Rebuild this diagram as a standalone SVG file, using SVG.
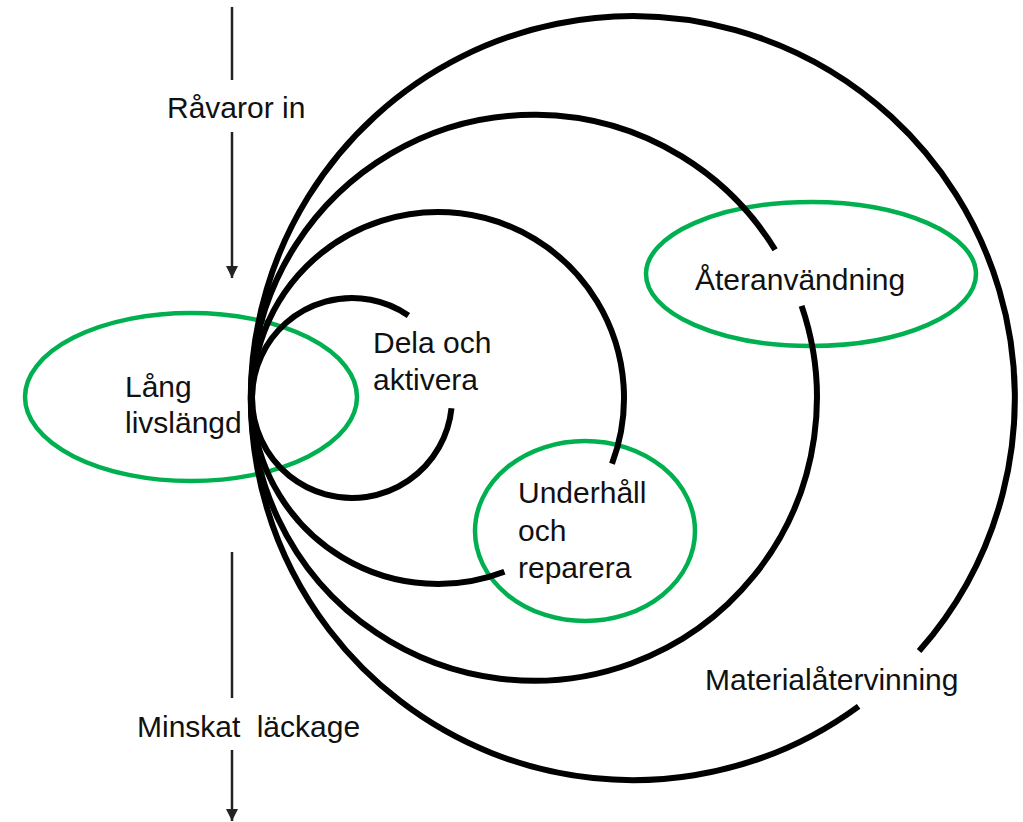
<svg xmlns="http://www.w3.org/2000/svg" width="1023" height="822" viewBox="0 0 1023 822">
  <style>
    .loop { fill: none; stroke: #000; stroke-width: 6; }
    .oval { fill: none; stroke: #00B050; stroke-width: 4.5; }
    .lbl { font-family: "Liberation Sans", Arial, sans-serif; font-size: 30px; fill: #111; }
    .flow { stroke: #222; stroke-width: 2.5; fill: none; }
  </style>
  <defs>
    <marker id="head" markerWidth="14" markerHeight="12" refX="12" refY="6" orient="auto" markerUnits="userSpaceOnUse">
      <path d="M0,0 L12,6 L0,12 Z" fill="#222"/>
    </marker>
  </defs>
  <rect width="1023" height="822" fill="#fff"/>

  <g id="lang-livslangd">
    <ellipse class="oval" cx="191" cy="397" rx="166" ry="84"/>
    <text class="lbl" x="125" y="397">Lång</text>
    <text class="lbl" x="125" y="433">livslängd</text>
  </g>
  <g id="ateranvandning">
    <ellipse class="oval" cx="811" cy="274" rx="165" ry="72"/>
    <text class="lbl" x="695" y="290">Återanvändning</text>
  </g>
  <g id="underhall">
    <ellipse class="oval" cx="585" cy="531" rx="110" ry="90"/>
    <text class="lbl" x="518" y="503">Underhåll</text>
    <text class="lbl" x="518" y="541">och</text>
    <text class="lbl" x="518" y="578">reparera</text>
  </g>

  <g id="loop-materialatervinning">
    <path class="loop" d="M 858.6 706.3 A 382 382 0 1 1 919.1 651.1"/>
    <text class="lbl" x="705" y="690">Materialåtervinning</text>
  </g>
  <g id="loop-ateranvandning">
    <path class="loop" d="M 801.6 305.9 A 283 283 0 1 1 775.1 249.7"/>
  </g>
  <g id="loop-underhall">
    <path class="loop" d="M 504.4 571.7 A 186 186 0 1 1 612 463.7"/>
  </g>
  <g id="loop-dela">
    <path class="loop" d="M 451.5 408.3 A 100 100 0 1 1 408.4 315.4"/>
    <text class="lbl" x="373" y="353">Dela och</text>
    <text class="lbl" x="373" y="390">aktivera</text>
  </g>

  <g id="connectors">
    <line class="flow" x1="232" y1="7" x2="232" y2="80"/>
    <line class="flow" x1="232" y1="132" x2="232" y2="278" marker-end="url(#head)"/>
    <line class="flow" x1="232" y1="552" x2="232" y2="698"/>
    <line class="flow" x1="232" y1="750" x2="232" y2="821" marker-end="url(#head)"/>
  </g>
  <g id="flow-labels">
    <text class="lbl" x="167" y="118">Råvaror in</text>
    <text class="lbl" x="137" y="737" word-spacing="8">Minskat läckage</text>
  </g>
</svg>
